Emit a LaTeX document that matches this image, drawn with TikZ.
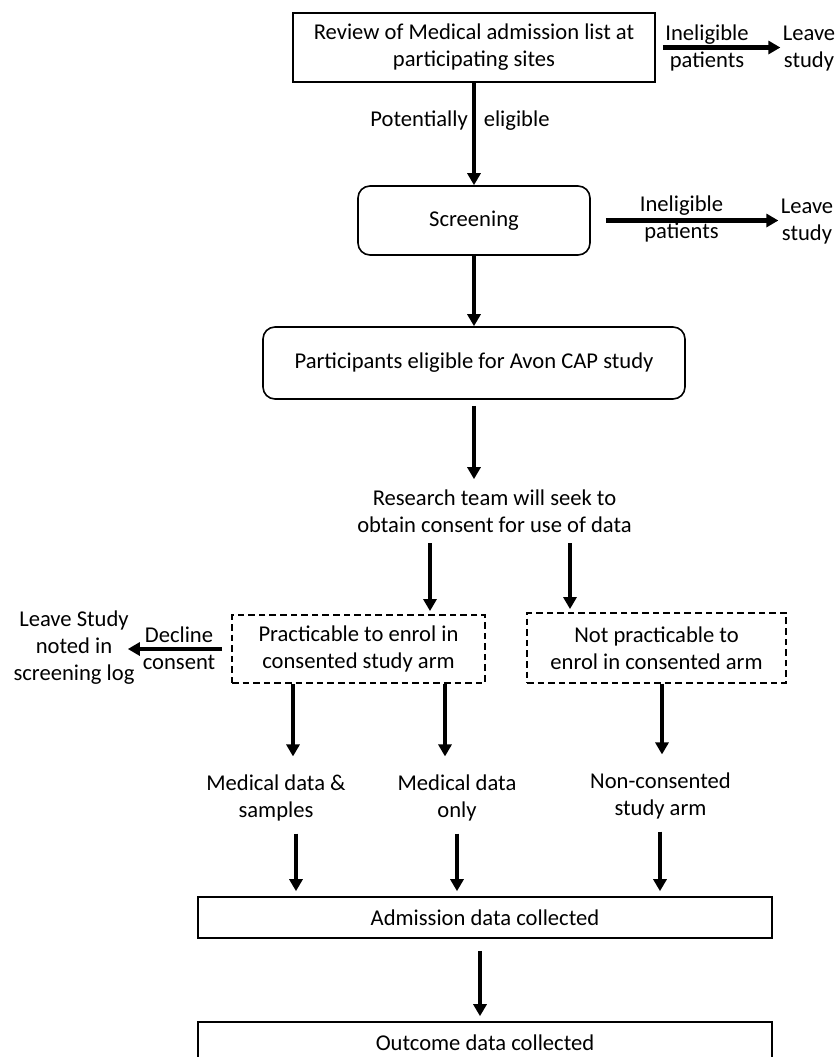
\documentclass[tikz,border=0pt]{standalone}
\usepackage{fontspec}
\setmainfont{Carlito}
\usetikzlibrary{arrows.meta}

\begin{document}
\begin{tikzpicture}[x=0.5pt,y=-0.5pt,
  font=\fontsize{11.3}{13.5}\selectfont,
  boite/.style={draw,line width=0.8pt,align=center,inner sep=0pt},
  arrondi/.style={boite,rounded corners=6pt},
  pointille/.style={boite,line width=0.9pt,dash pattern=on 3.3pt off 2pt},
  texte/.style={align=center,inner sep=1pt},
  fleche/.style={line width=2.1pt,-{Triangle[width=6.5pt,length=6pt]}}]

%%%%%%%%%%%%%%%%%%%%%%
%%%	   Cadre        %%%
%%%%%%%%%%%%%%%%%%%%%%

\useasboundingbox (0,0) rectangle (840,1057);

%%%%%%%%%%%%%%%%%%%%%%
%%%	   Colonnes     %%%
%%%%%%%%%%%%%%%%%%%%%%

\coordinate (hautA) at (430,543);
\coordinate (hautB) at (570,543);
\coordinate (colA) at (293,0);
\coordinate (colB) at (445,0);
\coordinate (colC) at (662,0);
\coordinate (basA) at (296,0);
\coordinate (basB) at (457,0);
\coordinate (basC) at (660,0);

%%%%%%%%%%%%%%%%%%%%%%
%%%	    Boites      %%%
%%%%%%%%%%%%%%%%%%%%%%

\node[boite,minimum width=181pt,minimum height=34.5pt] (revue) at (474,47.5) {Review of Medical admission list at\\participating sites};
\node[texte] (inelig1) at (707,48) {Ineligible\\patients};
\node[texte] (quitte1) at (809,49) {Leave\\study};
\node[texte] (potentiel) at (460,121) {Potentially\hspace{8pt}eligible};

\node[arrondi,minimum width=116pt,minimum height=34.5pt] (tri) at (474,220.5) {Screening};
\node[texte] (inelig2) at (681.5,219) {Ineligible\\patients};
\node[texte] (quitte2) at (807,222) {Leave\\study};

\node[arrondi,minimum width=211pt,minimum height=36pt] (eligibles) at (474,363) {Participants eligible for Avon CAP study};
\node[texte] (equipe) at (494.5,511) {Research team will seek to\\obtain consent for use of data};

\node[pointille,minimum width=126.5pt,minimum height=34pt] (praticable) at (358.5,649) {Practicable to enrol in\\consented study arm};
\node[pointille,minimum width=129.5pt,minimum height=35pt] (nonpraticable) at (656.5,648) {Not practicable to\\enrol in consented arm};
\node[texte] (refus) at (179,648) {Decline\\consent};
\node[texte] (sortie) at (74,648) {Leave Study\\noted in\\screening log};

\node[texte] (medech) at (276,798) {Medical data \&\\samples};
\node[texte] (medseul) at (457,798) {Medical data\\only};
\node[texte] (nonconsenti) at (660.5,796) {Non-consented\\study arm};

\node[boite,minimum width=287pt,minimum height=20.5pt] (admission) at (485,917.5) {Admission data collected};
\node[boite,minimum width=287pt,minimum height=20.5pt] (devenir) at (485,1042.5) {Outcome data collected};

%%%%%%%%%%%%%%%%%%%%%%
%%%	    Fleches     %%%
%%%%%%%%%%%%%%%%%%%%%%

% sorties a droite
\draw[fleche] ([xshift=3.5pt]revue.east) -- (revue.east -| quitte1.west);
\draw[fleche] ([xshift=7.5pt]tri.east) -- (tri.east -| quitte2.west);

% tronc central
\draw[fleche] (revue) -- (tri);
\draw[fleche] (tri) -- (eligibles);
\draw[fleche,shorten <=3pt,shorten >=4pt] (eligibles.south) -- (eligibles.south |- equipe.north);

% vers les deux bras
\draw[fleche,shorten >=1.5pt] (hautA) -- (hautA |- praticable.north);
\draw[fleche,shorten >=1.5pt] (hautB) -- (hautB |- nonpraticable.north);
\draw[fleche,shorten >=-4.5pt] ([xshift=-4.5pt]praticable.west) -- (praticable.west -| sortie.east);

% bras
\draw[fleche,shorten >=8pt] (praticable.south -| colA) -- (medech.north -| colA);
\draw[fleche,shorten >=8pt] (praticable.south -| colB) -- (medseul.north -| colB);
\draw[fleche,shorten >=8pt] (nonpraticable.south -| colC) -- (nonconsenti.north -| colC);

% recueil
\draw[fleche,shorten <=5pt,shorten >=2.5pt] (medech.south -| basA) -- (admission.north -| basA);
\draw[fleche,shorten <=5pt,shorten >=2.5pt] (medseul.south -| basB) -- (admission.north -| basB);
\draw[fleche,shorten <=5pt,shorten >=2.5pt] (nonconsenti.south -| basC) -- (admission.north -| basC);
\draw[fleche,shorten <=6pt,shorten >=2.5pt] ([xshift=-2.5pt]admission.south) -- ([xshift=-2.5pt]devenir.north);

\end{tikzpicture}
\end{document}
